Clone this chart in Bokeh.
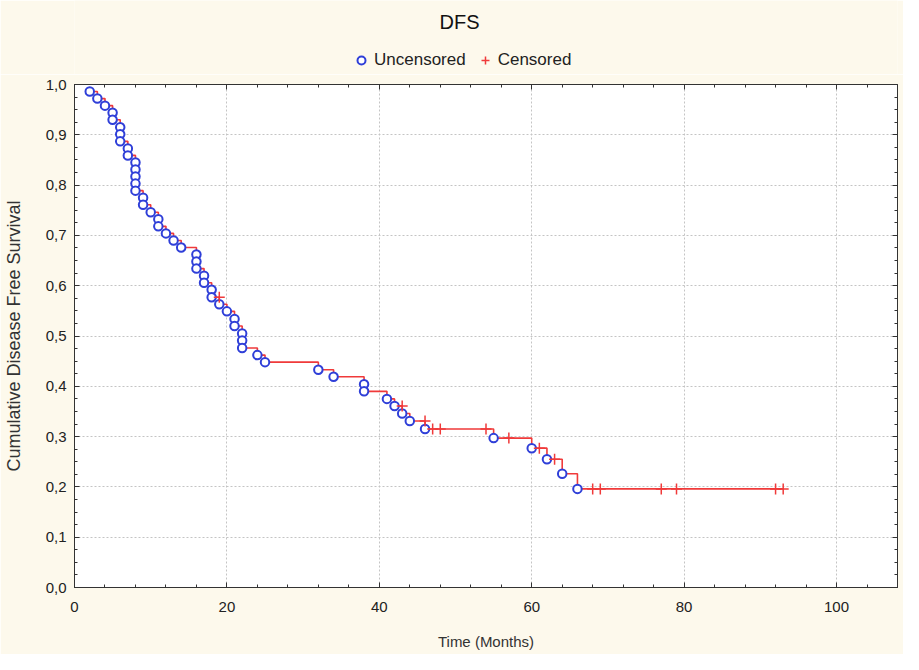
from bokeh.plotting import figure
from bokeh.layouts import column
from bokeh.models import (LinearAxis, FixedTicker, CustomJSTickFormatter, Legend,
                          LegendItem, Range1d, ColumnDataSource, CustomLabelingPolicy)
from bokeh.core.properties import value
from bokeh.embed import file_html
from bokeh.resources import INLINE
import numpy as np

# ---- data (time in months, cumulative survival) ----
unc_time = [2, 3, 4, 5, 5, 6, 6, 6, 7, 7, 8, 8, 8, 8, 8, 9, 9, 10, 11, 11, 12, 13, 14,
            16, 16, 16, 17, 17, 18, 18, 19, 20, 21, 21, 22, 22, 22, 24, 25, 32, 34,
            38, 38, 41, 42, 43, 44, 46, 55, 60, 62, 64, 66]
unc_surv = [0.986, 0.972, 0.958, 0.944, 0.930, 0.915, 0.901, 0.887, 0.873, 0.859,
            0.845, 0.831, 0.817, 0.803, 0.789, 0.775, 0.761, 0.746, 0.732, 0.718,
            0.704, 0.690, 0.676, 0.662, 0.648, 0.634, 0.620, 0.606, 0.592, 0.577,
            0.563, 0.549, 0.534, 0.520, 0.505, 0.491, 0.476, 0.462, 0.448, 0.433,
            0.419, 0.404, 0.390, 0.375, 0.361, 0.346, 0.331, 0.315, 0.297, 0.277,
            0.255, 0.226, 0.196]
cens_time = [19, 43, 46, 47, 48, 54, 57, 61, 63, 68, 69, 77, 79, 92, 93]
cens_surv = [0.577, 0.361, 0.331, 0.315, 0.315, 0.315, 0.297, 0.277, 0.255,
             0.196, 0.196, 0.196, 0.196, 0.196, 0.196]

x_ticks = [0, 20, 40, 60, 80, 100]
y_ticks = [0.0, 0.1, 0.2, 0.3, 0.4, 0.5, 0.6, 0.7, 0.8, 0.9, 1.0]
title_text = "DFS"
legend_labels = ["Uncensored", "Censored"]

FONT = "Liberation Sans"
CREAM = "#fdf9ec"
RED = "#f03a3a"
BLUE = "#2f3fd8"
TXT = "#222222"
W = 903
HEAD_H = 74
MAIN_H = 580
LEFT = 74
RIGHT = 6

# ---------------- header: title + legend (frame aligned with main plot) ----------------
head = figure(width=W, height=HEAD_H, x_range=Range1d(LEFT, W - RIGHT),
              y_range=Range1d(HEAD_H, 0),
              output_backend="svg", toolbar_location=None, x_axis_type=None,
              y_axis_type=None, min_border=0, outline_line_color=None,
              background_fill_color=CREAM, border_fill_color=CREAM)
head.xgrid.visible = False
head.ygrid.visible = False
head.text(x=[459], y=[21.5], text=[title_text], text_align="center", text_baseline="middle",
          text_font=value(FONT), text_font_size="20px", text_color="#111111")
d_unc = head.scatter(x=[np.nan], y=[np.nan], marker="circle", size=8, line_color=BLUE,
                     line_width=2, fill_color="white")
d_cens = head.scatter(x=[np.nan], y=[np.nan], marker="cross", size=11, line_color=RED,
                      line_width=1.5)
leg = Legend(items=[LegendItem(label=legend_labels[0], renderers=[d_unc]),
                    LegendItem(label=legend_labels[1], renderers=[d_cens])],
             orientation="horizontal", location=(277, 4),
             background_fill_alpha=0, border_line_color=None,
             glyph_width=20, glyph_height=20, label_standoff=3, spacing=9,
             padding=0, margin=0, label_text_font=FONT, label_text_font_size="17px",
             label_text_color=TXT)
head.add_layout(leg, "center")

# ---------------- main KM plot ----------------
pts = sorted(zip(unc_time + cens_time, unc_surv + cens_surv), key=lambda t: (t[0], -t[1]))
line_src = ColumnDataSource(dict(x=[t[0] for t in pts], y=[t[1] for t in pts]))
unc_src = ColumnDataSource(dict(x=unc_time, y=unc_surv))
cens_src = ColumnDataSource(dict(x=cens_time, y=cens_surv))

p = figure(width=W, height=MAIN_H, x_range=Range1d(0, 108), y_range=Range1d(0, 1.0),
           output_backend="svg", toolbar_location=None,
           min_border_left=LEFT, min_border_right=RIGHT, min_border_top=10,
           min_border_bottom=67,
           background_fill_color="white", border_fill_color=CREAM,
           outline_line_color="#333333", outline_line_width=1,
           x_axis_label="Time (Months)", y_axis_label="Cumulative Disease Free Survival")

xt = FixedTicker(ticks=x_ticks, minor_ticks=list(np.arange(0, 108, 4)))
yt = FixedTicker(ticks=y_ticks, minor_ticks=list(np.round(np.arange(0, 1.001, 0.025), 3)))
fmt = CustomJSTickFormatter(code="return tick.toFixed(1).replace('.', ',');")

xa = p.xaxis[0]
ya = p.yaxis[0]
xa.ticker = xt
ya.ticker = yt
ya.formatter = fmt
for ax in (xa, ya):
    ax.major_tick_in = 5
    ax.major_tick_out = 0
    ax.minor_tick_in = 3
    ax.minor_tick_out = 0
    ax.axis_line_color = "#333333"
    ax.major_tick_line_color = "#333333"
    ax.minor_tick_line_color = "#333333"
    ax.major_label_text_font = FONT
    ax.major_label_text_font_size = "15px"
    ax.major_label_text_color = TXT
    ax.axis_label_text_font = FONT
    ax.axis_label_text_font_style = "normal"
    ax.axis_label_text_color = "#333333"
xa.major_label_standoff = 14
xa.axis_label_text_font_size = "15px"
xa.axis_label_standoff = 18
ya.major_label_standoff = 8
ya.axis_label_text_font_size = "18px"
ya.axis_label_standoff = 19

# mirrored tick-only axes on top and right (labels hidden)
hide_all = CustomLabelingPolicy(code="for (const i of indices) indices.unset(i); return indices;")
for loc, tk in (("above", xt), ("right", yt)):
    ax = LinearAxis(ticker=tk, formatter=CustomJSTickFormatter(code="return '';"),
                    major_label_policy=hide_all,
                    major_label_text_font_size="1px", major_label_standoff=0,
                    major_tick_in=5, major_tick_out=0, minor_tick_in=3, minor_tick_out=0,
                    axis_line_color=None, major_tick_line_color="#333333",
                    minor_tick_line_color="#333333")
    p.add_layout(ax, loc)

p.xgrid.ticker = xt
p.ygrid.ticker = yt
for g in (p.xgrid, p.ygrid):
    g.grid_line_color = "#c4c4c4"
    g.grid_line_dash = "2 2"
    g.grid_line_width = 1

p.step("x", "y", source=line_src, mode="after", line_color=RED, line_width=1.6)
p.scatter("x", "y", source=unc_src, marker="circle", size=8.5, line_color=BLUE,
          line_width=2, fill_color="white")
p.scatter("x", "y", source=cens_src, marker="cross", size=11, line_color=RED,
          line_width=1.5)

layout = column(head, p, spacing=0)
open("out.html", "w").write(file_html(layout, INLINE))
